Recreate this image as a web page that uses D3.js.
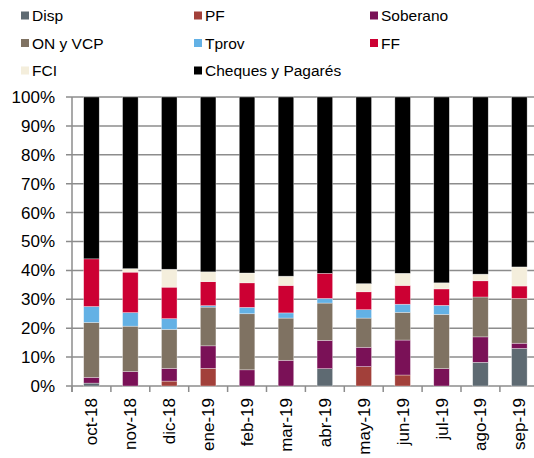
<!DOCTYPE html>
<html>
<head>
<meta charset="utf-8">
<script src="https://cdn.jsdelivr.net/npm/d3@7"></script>
<style>
  body { margin: 0; background: #fff; }
  text { font-family: "Liberation Sans", Arial, sans-serif; fill: #000; }
</style>
</head>
<body>
<svg id="chart" width="534" height="458"></svg>
<script>
// months on the x axis
let months = ["oct-18","nov-18","dic-18","ene-19","feb-19","mar-19","abr-19","may-19","jun-19","jul-19","ago-19","sep-19"];

// series names (stack order, bottom to top)
let seriesNames = ["Disp","PF","Soberano","ON y VCP","Tprov","FF","FCI","Cheques y Pagarés"];
let seriesColors = ["#5e6a72","#a2403a","#7a1157","#7f7262","#63b1e5","#cc0033","#f4eedc","#000000"];

// shares in %
let disp     = [1.0, 0,   0,   0,   0,   0,   6.0, 0,   0,   0,   8.2, 13.0];
let pf       = [0,   0,   1.7, 6.1, 0,   0,   0,   6.7, 3.8, 0,   0,   0];
let soberano = [2.0, 5.0, 4.4, 7.8, 5.6, 8.9, 9.8, 6.7, 12.1,6.0, 8.8, 1.8];
let onVcp    = [19.0,15.7,13.5,13.4,19.4,14.6,12.9,10.1,9.6, 18.8,13.8,15.5];
let tprov    = [5.5, 4.7, 3.7, 0.5, 2.2, 1.8, 1.6, 2.9, 2.8, 3.1, 0,   0];
let ff       = [16.5,14.0,10.9,8.3, 8.5, 9.5, 8.7, 6.2, 6.5, 5.7, 5.6, 4.3];
let fci      = [0,   1.2, 6.2, 3.4, 3.4, 3.2, 0,   2.8, 4.2, 2.1, 2.3, 6.6];
let cheques  = [56.0,59.4,59.6,60.5,60.9,62.0,61.0,64.6,61.0,64.3,61.3,58.8];

let yTicks = [0,10,20,30,40,50,60,70,80,90,100];

let allSeries = [disp, pf, soberano, onVcp, tprov, ff, fci, cheques];
let table = months.map(function(m, i){
    let row = {month: m};
    seriesNames.forEach(function(s, k){ row[s] = allSeries[k][i]; });
    return row;
});

let svg = d3.select("#chart");
let plotLeft = 72, plotRight = 538.8, plotTop = 97, plotBottom = 386;

let xScale = d3.scaleBand()
    .domain(months)
    .range([plotLeft, plotRight])
    .paddingInner(0.6)
    .paddingOuter(0.3);

let yScale = d3.scaleLinear()
    .domain([0,100])
    .range([plotBottom, plotTop]);

// gridlines
svg.append("g")
    .selectAll("line")
    .data(yTicks)
    .enter()
    .append("line")
    .attr("x1", plotLeft - 6)
    .attr("x2", plotRight)
    .attr("y1", d => yScale(d))
    .attr("y2", d => yScale(d))
    .attr("stroke", "#8c8c8c")
    .attr("stroke-width", 1.5);

// stacked bars
let stack = d3.stack().keys(seriesNames)(table);
svg.append("g")
    .selectAll("g")
    .data(stack)
    .enter()
    .append("g")
    .attr("fill", (d, k) => seriesColors[k])
    .selectAll("rect")
    .data(d => d.filter(p => p[1] - p[0] > 0))
    .enter()
    .append("rect")
    .attr("x", d => xScale(d.data.month))
    .attr("width", xScale.bandwidth())
    .attr("y", d => yScale(d[1]))
    .attr("height", d => yScale(d[0]) - yScale(d[1]))
    .attr("stroke", "rgba(255,255,255,0.55)")
    .attr("stroke-width", 0.6);

// y axis line
svg.append("line")
    .attr("x1", plotLeft).attr("x2", plotLeft)
    .attr("y1", plotTop).attr("y2", plotBottom + 6)
    .attr("stroke", "#8c8c8c")
    .attr("stroke-width", 1.5);

// y labels
svg.append("g")
    .selectAll("text")
    .data(yTicks)
    .enter()
    .append("text")
    .attr("x", 55)
    .attr("y", d => yScale(d))
    .attr("dy", "0.35em")
    .attr("text-anchor", "end")
    .style("font-size", "17px")
    .text(d => d + "%");

// x axis ticks between categories
let step = xScale.step();
let tickXs = d3.range(months.length + 1).map(i => plotLeft + i * step);
svg.append("g")
    .selectAll("line")
    .data(tickXs)
    .enter()
    .append("line")
    .attr("x1", d => d).attr("x2", d => d)
    .attr("y1", plotBottom).attr("y2", plotBottom + 6)
    .attr("stroke", "#8c8c8c")
    .attr("stroke-width", 1.5);

// x labels, rotated
svg.append("g")
    .selectAll("text")
    .data(months)
    .enter()
    .append("text")
    .attr("transform", d => "translate(" + (xScale(d) + xScale.bandwidth()/2) + "," + 398 + ") rotate(-90)")
    .attr("dy", "0.35em")
    .attr("text-anchor", "end")
    .style("font-size", "17px")
    .text(d => d);

// legend, 3 columns
let legendX = [21, 194, 370];
let legendY = [15.5, 43, 70.5];
let legend = svg.append("g")
    .selectAll("g")
    .data(seriesNames)
    .enter()
    .append("g")
    .attr("transform", (d, i) => "translate(" + legendX[i % 3] + "," + legendY[Math.floor(i / 3)] + ")");
legend.append("rect")
    .attr("x", 0).attr("y", -4)
    .attr("width", 8).attr("height", 8)
    .attr("fill", (d, i) => seriesColors[i]);
legend.append("text")
    .attr("x", 11)
    .attr("y", 0)
    .attr("dy", "0.36em")
    .style("font-size", "15.5px")
    .text(d => d);
</script>
</body>
</html>
